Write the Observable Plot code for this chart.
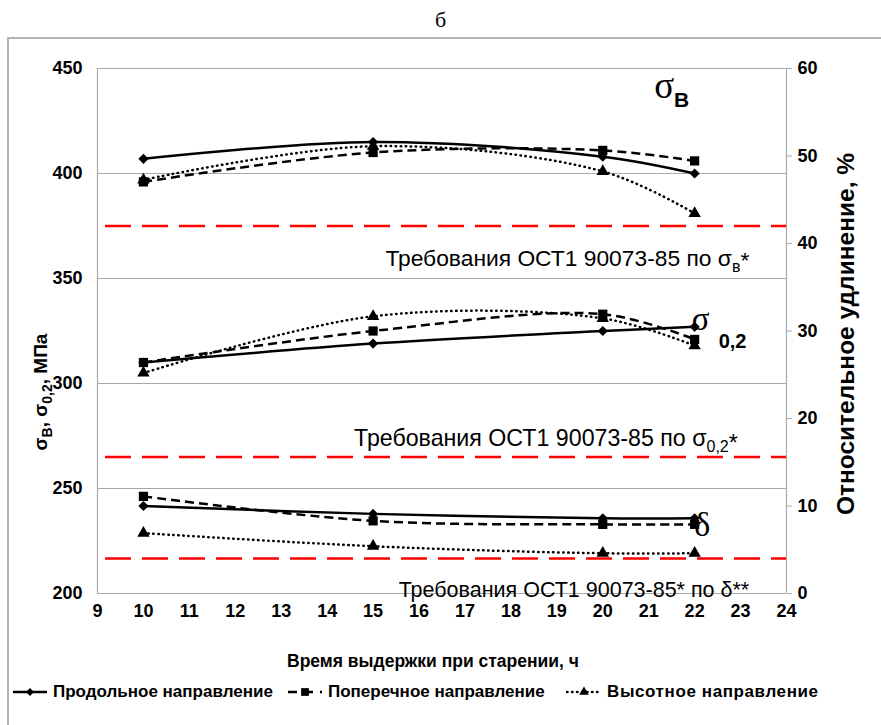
<!DOCTYPE html>
<html>
<head>
<meta charset="utf-8">
<script src="https://cdn.jsdelivr.net/npm/d3@7"></script>
<script src="https://cdn.jsdelivr.net/npm/@observablehq/plot@0.6"></script>
<style>
  body { margin: 0; background: #fff; font-family: "Liberation Sans", Arial, sans-serif; }
  #wrap { position: relative; width: 881px; height: 725px; overflow: hidden; background: #fff; }
  #title { position: absolute; top: 7px; left: 0; width: 881px; text-align: center;
           font-family: "Liberation Serif", "DejaVu Serif", serif; font-size: 22px; }
  #box { position: absolute; left: 7px; top: 37px; width: 900px; height: 720px;
         border-top: 2px solid #b4b4b4; border-left: 2px solid #b4b4b4; }
  #chart { position: absolute; left: 0; top: 0; }
  #legend { position: absolute; top: 682px; left: 0; width: 881px; height: 20px;
            font-weight: bold; font-size: 17px; white-space: nowrap; }
  #legend .item { position: absolute; top: 0; display: flex; align-items: center; }
  #legend svg { margin-right: 5px; }
</style>
</head>
<body>
<div id="wrap">
  <div id="box"></div>
  <div id="title">б</div>
  <div id="chart"></div>
  <div id="legend"></div>
</div>
<script>
// Ageing time, hours
const hours = [10, 15, 20, 22];
const directions = ["Продольное направление", "Поперечное направление", "Высотное направление"];

// Ultimate strength σв, MPa
const sigmaB_long  = [407, 415, 408, 400];
const sigmaB_trans = [396, 410, 411, 406];
const sigmaB_high  = [397, 413, 401, 381];

// Yield strength σ0,2, MPa
const sigma02_long  = [310, 319, 325, 327];
const sigma02_trans = [310, 325, 333, 321];
const sigma02_high  = [305, 332, 331, 318];

// Elongation δ, %
const delta_long  = [10.0, 9.1, 8.6, 8.6];
const delta_trans = [11.1, 8.3, 7.9, 7.9];
const delta_high  = [6.9, 5.4, 4.6, 4.6];

// Specification limits (ОСТ1 90073-85)
const reqSigmaB = 375;   // MPa
const reqSigma02 = 265;  // MPa
const reqDelta = 4;      // %

// Axis ticks
const xTicks = [9, 10, 11, 12, 13, 14, 15, 16, 17, 18, 19, 20, 21, 22, 23, 24];
const leftTicks = [200, 250, 300, 350, 400, 450];
const rightTicks = [0, 10, 20, 30, 40, 50, 60];

// The elongation axis (0–60 %) shares the frame with the stress axis (200–450 MPa)
const leftMin = 200, leftMax = 450, rightMax = 60;
const pctToLeft = p => leftMin + p * (leftMax - leftMin) / rightMax;
const leftToPct = v => (v - leftMin) * rightMax / (leftMax - leftMin);

const series = [
  {dir: 0, prop: "sb",  vals: sigmaB_long},
  {dir: 1, prop: "sb",  vals: sigmaB_trans},
  {dir: 2, prop: "sb",  vals: sigmaB_high},
  {dir: 0, prop: "s02", vals: sigma02_long},
  {dir: 1, prop: "s02", vals: sigma02_trans},
  {dir: 2, prop: "s02", vals: sigma02_high},
  {dir: 0, prop: "d",   vals: delta_long.map(pctToLeft)},
  {dir: 1, prop: "d",   vals: delta_trans.map(pctToLeft)},
  {dir: 2, prop: "d",   vals: delta_high.map(pctToLeft)}
];
const rows = series.flatMap(s => hours.map((t, i) => ({t, v: s.vals[i], dir: s.dir, key: s.prop + s.dir})));

const styles = [
  {dash: null,      symbol: "diamond2", r: 4.6},
  {dash: "9,5",     symbol: "square",   r: 5.2},
  {dash: "0.5,4.5", symbol: "triangle", r: 4.6}
];

const lineMarks = styles.map((st, d) => Plot.line(rows.filter(r => r.dir === d), {
  x: "t", y: "v", z: "key", curve: "catmull-rom",
  stroke: "black", strokeWidth: 2.5,
  strokeDasharray: st.dash, strokeLinecap: d === 2 ? "round" : "butt"
}));
const dotOrder = [2, 0, 1];
const dotMarks = dotOrder.map(d => Plot.dot(rows.filter(r => r.dir === d), {
  x: "t", y: "v", symbol: styles[d].symbol, r: styles[d].r, fill: "black", stroke: "none"
}));

const grey = "#a9a9a9";
const plot = Plot.plot({
  width: 881, height: 725,
  marginLeft: 97, marginRight: 95, marginTop: 68, marginBottom: 132,
  x: {domain: [9, 24]},
  y: {domain: [leftMin, leftMax]},
  style: {fontFamily: "'Liberation Sans', Arial, sans-serif", fontSize: "18px", fontWeight: "bold", background: "transparent", overflow: "visible"},
  marks: [
    Plot.gridY(leftTicks.slice(1), {stroke: grey, strokeOpacity: 1, strokeWidth: 1.2}),
    Plot.ruleX([9, 24], {stroke: grey, strokeWidth: 1.2}),
    Plot.ruleY([leftMin], {stroke: grey, strokeWidth: 1.2}),
    Plot.axisY(leftTicks, {anchor: "left", tickSize: 0, tickPadding: 15, label: null, fontSize: 18, fontWeight: "bold"}),
    Plot.axisY(rightTicks.map(pctToLeft), {anchor: "right", tickSize: 5, tickPadding: 6, stroke: grey, fill: "black",
      tickFormat: v => String(Math.round(leftToPct(v))), label: null, fontSize: 18, fontWeight: "bold"}),
    Plot.axisX(xTicks, {tickSize: 0, tickPadding: 11, label: null, fontSize: 18, fontWeight: "bold"}),
    Plot.ruleY([reqSigmaB, reqSigma02, pctToLeft(reqDelta)], {stroke: "#ff0000", strokeWidth: 2.6, strokeDasharray: "26,11", strokeDashoffset: -8}),
    ...lineMarks,
    ...dotMarks
  ]
});
document.getElementById("chart").appendChild(plot);

// Rich-text annotations (subscripts) placed through the plot's scales
const sx = plot.scale("x"), sy = plot.scale("y");
const svg = d3.select(plot);
const ann = svg.append("g").attr("font-family", "'Liberation Sans', Arial, sans-serif");
const serif = "'Liberation Serif', 'DejaVu Serif', serif";

function addText(x, y, parts, opts = {}) {
  const t = ann.append("text").attr("x", x).attr("y", y)
    .attr("text-anchor", opts.anchor || "start")
    .attr("font-size", opts.size || 17)
    .attr("font-weight", opts.weight || "normal")
    .attr("fill", "black");
  if (opts.rotate) t.attr("transform", `rotate(${opts.rotate},${x},${y})`);
  for (const p of parts) {
    const s = t.append("tspan").text(p.text);
    if (p.dy) s.attr("dy", p.dy);
    if (p.dx) s.attr("dx", p.dx);
    if (p.size) s.attr("font-size", p.size);
    if (p.family) s.attr("font-family", p.family);
    if (p.weight) s.attr("font-weight", p.weight);
  }
  return t;
}

// Requirement captions
addText(sx.apply(23.2), sy.apply(reqSigmaB) + 40, [
  {text: "Требования ОСТ1 90073-85 по σ"},
  {text: "в", dy: 6, size: 16},
  {text: "*", dy: -4}
], {anchor: "end", size: 22.8});
addText(sx.apply(22.95), sy.apply(reqSigma02) - 11, [
  {text: "Требования ОСТ1 90073-85 по σ"},
  {text: "0,2", dy: 6, size: 16},
  {text: "*", dy: -1}
], {anchor: "end", size: 23.2});
addText(sx.apply(23.2), sy.apply(pctToLeft(reqDelta)) + 39, [
  {text: "Требования ОСТ1 90073-85* по δ**"}
], {anchor: "end", size: 21.5});

// Property labels next to the curves
addText(sx.apply(21.13), sy.apply(404) - 67, [
  {text: "σ", family: serif, size: 37},
  {text: "В", dy: 9, size: 21, weight: "bold"}
]);
addText(sx.apply(21.95), sy.apply(327) + 4, [
  {text: "σ", family: serif, size: 33},
  {text: "0,2", dy: 18, dx: 9, size: 20, weight: "bold", family: "'Liberation Sans', Arial, sans-serif"}
]);
addText(sx.apply(22.0), sy.apply(pctToLeft(8)) + 13, [
  {text: "δ", family: serif, size: 34}
]);

// Axis titles
addText(47, 392, [
  {text: "σ"},
  {text: "В", dy: 5, size: 14},
  {text: ", σ", dy: -5},
  {text: "0,2", dy: 5, size: 14},
  {text: ", МПа", dy: -5}
], {anchor: "middle", size: 19, weight: "bold", rotate: -90});
addText(854, 334, [{text: "Относительное удлинение, %"}], {anchor: "middle", size: 24.5, weight: "bold", rotate: -90});
addText(433, 667, [{text: "Время выдержки при старении, ч"}], {anchor: "middle", size: 17.5, weight: "bold"});

// Legend
const legend = d3.select("#legend");
const legendLeft = [12, 287, 566];
directions.forEach((name, d) => {
  const item = legend.append("div").attr("class", "item").style("left", legendLeft[d] + "px");
  const s = item.append("svg").attr("width", 36).attr("height", 14);
  s.append("line").attr("x1", 1).attr("x2", 35).attr("y1", 7).attr("y2", 7)
    .attr("stroke", "black").attr("stroke-width", 2.5)
    .attr("stroke-dasharray", d === 0 ? null : d === 1 ? "9,7" : "0.5,4.5")
    .attr("stroke-linecap", d === 2 ? "round" : "butt");
  const sym = {diamond2: d3.symbolDiamond2, square: d3.symbolSquare, triangle: d3.symbolTriangle}[styles[d].symbol];
  const size = d === 1 ? 60 : 40;
  s.append("path").attr("d", d3.symbol(sym, size)()).attr("transform", "translate(18,7)").attr("fill", "black");
  const span = item.append("span").text(name);
  if (d === 2) span.style("letter-spacing", "0.6px");
});
</script>
</body>
</html>
